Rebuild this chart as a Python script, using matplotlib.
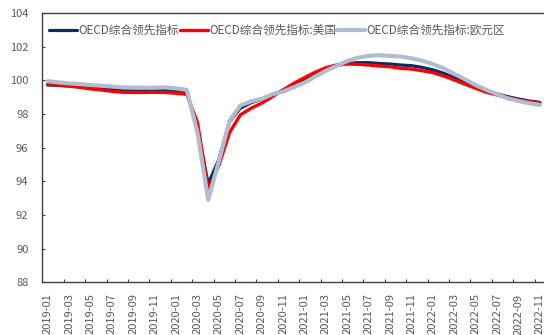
import numpy as np
import pandas as pd
import matplotlib
matplotlib.use("Agg")
import matplotlib.pyplot as plt

plt.rcParams['font.family'] = ['Noto Sans CJK SC', 'DejaVu Sans']

# Months 2019-01 .. 2022-11
months = pd.date_range('2019-01-01', '2022-11-01', freq='MS').strftime('%Y-%m').tolist()

# OECD composite leading indicator
oecd = [99.72, 99.70, 99.66, 99.60, 99.55, 99.50, 99.45, 99.42, 99.42, 99.42, 99.42, 99.40,
        99.36, 99.32, 97.10, 93.85, 95.30, 97.55, 98.34, 98.67, 98.87, 99.15, 99.40, 99.68,
        100.02, 100.36, 100.66, 100.87, 101.01, 101.05, 101.05, 101.00, 100.97, 100.91, 100.87, 100.77,
        100.62, 100.42, 100.16, 99.88, 99.63, 99.37, 99.19, 99.03, 98.89, 98.77, 98.69]
# US
usa = [99.78, 99.72, 99.66, 99.59, 99.49, 99.43, 99.35, 99.29, 99.28, 99.28, 99.29, 99.28,
       99.23, 99.17, 97.50, 93.50, 94.95, 96.90, 97.94, 98.34, 98.64, 99.03, 99.43, 99.82,
       100.16, 100.48, 100.75, 100.91, 100.97, 100.95, 100.91, 100.85, 100.81, 100.71, 100.67, 100.57,
       100.46, 100.26, 100.02, 99.77, 99.53, 99.29, 99.13, 98.97, 98.83, 98.73, 98.67]
# Euro area
euro = [99.95, 99.88, 99.82, 99.78, 99.72, 99.68, 99.63, 99.58, 99.56, 99.56, 99.56, 99.58,
        99.52, 99.43, 96.90, 92.90, 95.20, 97.60, 98.50, 98.75, 98.90, 99.17, 99.33, 99.59,
        99.86, 100.22, 100.57, 100.85, 101.15, 101.35, 101.45, 101.49, 101.45, 101.41, 101.31, 101.17,
        100.97, 100.71, 100.38, 100.06, 99.72, 99.43, 99.17, 98.93, 98.77, 98.64, 98.54]

names = ['OECD综合领先指标', 'OECD综合领先指标:美国', 'OECD综合领先指标:欧元区']

fig = plt.figure(figsize=(5.44, 3.35), dpi=100)
ax = fig.add_axes([0.0778, 0.1573, 0.9245, 0.8039])

x = np.arange(len(months))
ax.plot(x, oecd, color='#0c2a63', lw=2.3, label=names[0], solid_capstyle='round')
ax.plot(x, usa, color='#ff0000', lw=2.4, label=names[1], solid_capstyle='round')
ax.plot(x, euro, color='#b0bdd0', lw=3.0, label=names[2], solid_capstyle='round')

ax.set_xlim(-0.5, len(months) - 0.5)
ax.set_ylim(88, 104)
ax.set_yticks(np.arange(88, 105, 2))

# labels every other month, tick marks on category boundaries
ax.set_xticks(x[::2])
ax.set_xticklabels(months[::2], rotation=90)
ax.set_xticks(np.arange(1.5, len(months) - 0.5, 2), minor=True)
ax.tick_params(axis='x', which='major', length=0, pad=8, labelsize=8, labelcolor='#595959')
ax.tick_params(axis='x', which='minor', direction='in', length=2.5, width=0.8, color='#404040')
ax.tick_params(axis='y', direction='in', length=2.5, width=0.8, color='#404040',
               pad=10, labelsize=8, labelcolor='#595959')

for s in ax.spines.values():
    s.set_color('#404040')
    s.set_linewidth(1.0)

ax.legend(loc='upper left', bbox_to_anchor=(0.0, 0.985), ncol=3, frameon=False,
          fontsize=8.4, labelcolor='#595959', handlelength=2.4, handletextpad=0.1,
          columnspacing=0.1, borderaxespad=0.2)

fig.savefig('out.png', dpi=100)
